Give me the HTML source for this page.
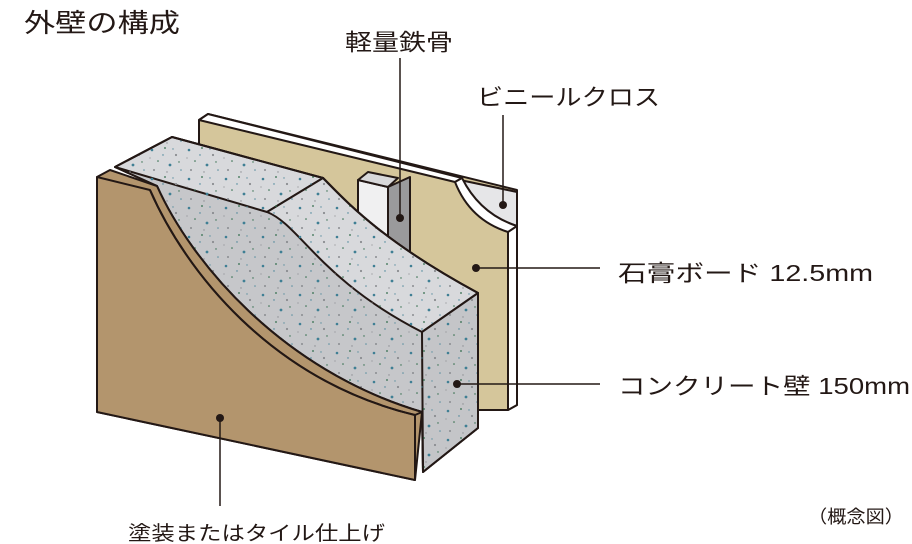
<!DOCTYPE html>
<html><head><meta charset="utf-8"><style>
html,body{margin:0;padding:0;background:#fff;}
svg{display:block;}
text{font-family:"Liberation Sans","Noto Sans CJK JP",sans-serif;fill:#231815;}
</style></head><body>
<svg width="912" height="544" viewBox="0 0 912 544" xmlns="http://www.w3.org/2000/svg">
<defs>
<pattern id="sp" width="37" height="29" patternUnits="userSpaceOnUse">
<circle cx="4" cy="5" r="1.3" fill="#3f7f94"/><circle cx="17" cy="3" r="0.9" fill="#2f6b4a"/>
<circle cx="28" cy="10" r="1.1" fill="#8a8c90"/><circle cx="10" cy="16" r="0.8" fill="#2f6b4a"/>
<circle cx="22" cy="20" r="1.4" fill="#3f7f94"/><circle cx="33" cy="25" r="0.8" fill="#5b8ea0"/>
<circle cx="6" cy="25" r="1" fill="#8a8c90"/><circle cx="15" cy="10" r="0.7" fill="#3f7f94"/>
<circle cx="31" cy="17" r="0.7" fill="#2f6b4a"/><circle cx="25" cy="4" r="0.7" fill="#5b8ea0"/>
<circle cx="2" cy="13" r="0.6" fill="#8a8c90"/><circle cx="19" cy="27" r="0.7" fill="#8a8c90"/>
</pattern>
</defs>
<g stroke="#231815" stroke-width="2" stroke-linejoin="round">
<!-- gypsum board -->
<polygon points="199,120 208,114 517,190 517,405 508,410 477,410 199,330" fill="#d5c69b"/>
<polygon points="199,120 208,114 462,178 455,182" fill="#fff"/>
<polygon points="508,228 517,222 517,405 508,410" fill="#fff"/>
<!-- vinyl cross peel -->
<path d="M460,180 L517,192 L517,226 Q480,214 460,180 Z" fill="#e6e6e8"/>
<path d="M455,182 L462,178 Q480,214 517,226 L508,232 Q470,220 455,182 Z" fill="#fff"/>
<!-- steel stud -->
<polygon points="358,180 388,187 388,275 358,270" fill="#f0f0f1"/>
<polygon points="358,180 368,172 398,178 388,187" fill="#d8d8da"/>
<polygon points="388,187 410,177 410,258 388,262" fill="#9a9a9c"/>
<!-- concrete -->
<path d="M115,167 L172,137 L323,178 C345,200 380,240 478,293 L478,428 L423,472 L422,412 C280,370 190,260 157,186 Z" fill="#c6c7ca"/>
<path d="M115,167 L172,137 L323,178 L267,212 Z" fill="#d8d9dc"/>
<path d="M267,212 L323,178 C345,200 380,240 478,293 L422,332 C320,280 300,225 267,212 Z" fill="#d8d9dc"/>
<path d="M422,332 L478,293 L478,428 L423,472 Z" fill="#c4c5c8"/>
<path d="M115,167 L172,137 L323,178 C345,200 380,240 478,293 L478,428 L423,472 L422,412 C280,370 190,260 157,186 Z" fill="url(#sp)"/>
<!-- finish -->
<path d="M97,177 L110,170 L157,186 C190,260 280,370 422,412 L415,480 L97,412 Z" fill="#b3956d"/>
<path d="M97,177 L150,190 C185,270 270,380 415,415 L415,480 L97,412 Z" fill="#b3956d"/>
<path d="M150,190 C185,270 270,380 415,415 L422,412" fill="none"/>
</g>
<!-- leaders -->
<g stroke="#231815" stroke-width="1.5" fill="none">
<line x1="400" y1="58" x2="400" y2="218"/>
<line x1="503" y1="115" x2="503" y2="205"/>
<line x1="476" y1="268" x2="600" y2="268"/>
<line x1="457" y1="384" x2="600" y2="384"/>
<line x1="220" y1="418" x2="220" y2="506"/>
</g>
<g fill="#231815">
<circle cx="400" cy="218" r="4"/><circle cx="503" cy="205" r="4"/>
<circle cx="476" cy="268" r="4"/><circle cx="457" cy="384" r="4"/><circle cx="220" cy="418" r="4"/>
</g>
<text x="24" y="32" font-size="26" textLength="156" lengthAdjust="spacingAndGlyphs">外壁の構成</text>
<text x="345" y="50" font-size="23" textLength="108" lengthAdjust="spacingAndGlyphs">軽量鉄骨</text>
<text x="477" y="105" font-size="23" textLength="183" lengthAdjust="spacingAndGlyphs">ビニールクロス</text>
<text x="618" y="281" font-size="23" textLength="255" lengthAdjust="spacingAndGlyphs">石膏ボード 12.5mm</text>
<text x="618" y="394" font-size="23" textLength="292" lengthAdjust="spacingAndGlyphs">コンクリート壁 150mm</text>
<text x="128" y="540" font-size="20" textLength="257" lengthAdjust="spacingAndGlyphs">塗装またはタイル仕上げ</text>
<text x="808" y="523" font-size="18" textLength="96" lengthAdjust="spacingAndGlyphs">（概念図）</text>
</svg>
</body></html>
